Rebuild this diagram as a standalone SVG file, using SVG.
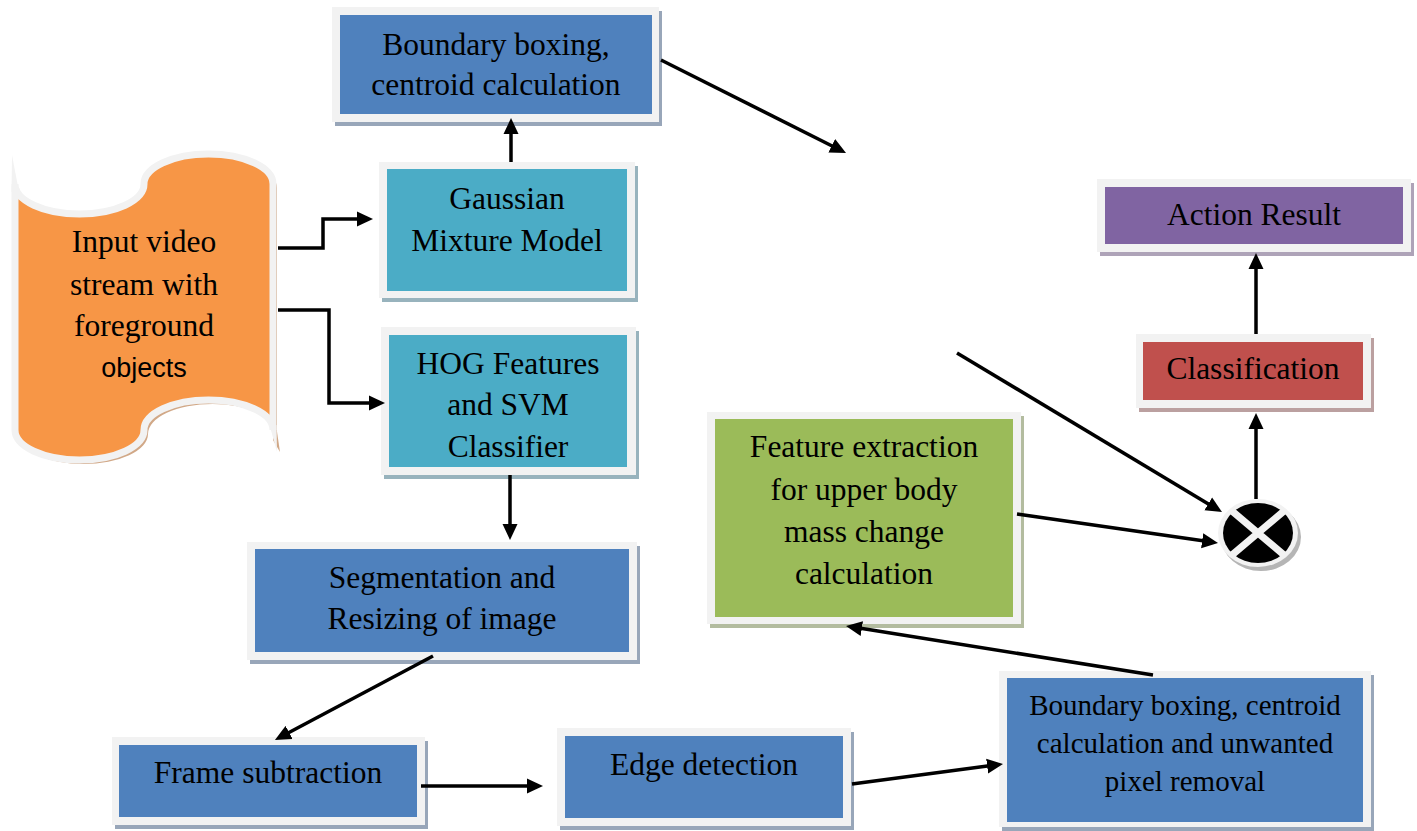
<svg xmlns="http://www.w3.org/2000/svg" width="1417" height="831" viewBox="0 0 1417 831">
<style>
.frame{fill:#f2f2f2}
.t{font-family:"Liberation Serif","Times New Roman",serif;font-size:31.5px;fill:#000;text-anchor:middle}
.ts{font-family:"Liberation Sans",Arial,sans-serif;font-size:27px;fill:#000;text-anchor:middle}
.blue{fill:#4f81bd}.sblue{fill:#98a6b9}
.teal{fill:#4bacc6}.steal{fill:#98b3bd}
.green{fill:#9bbb59}.sgreen{fill:#b3bc9f}
.red{fill:#c0504d}.sred{fill:#bba0a0}
.purple{fill:#8064a2}.spurple{fill:#aea3b8}
.conn{fill:none;stroke:#000;stroke-width:3.5}
</style>
<defs>
<marker id="ah" markerUnits="userSpaceOnUse" markerWidth="16" markerHeight="16" refX="6" refY="7.5" orient="auto" viewBox="0 0 16 15">
<path d="M0,0 L16,7.5 L0,15 Z" fill="#000"/>
</marker>
</defs>
<rect width="1417" height="831" fill="#fff"/>

<g id="input">
<path d="M15,184 A64.5,30 0 0,0 144,184 A64.5,30 0 0,1 273,184 L273,430 A64.5,30 0 0,0 144,430 A64.5,30 0 0,1 15,430 Z" transform="translate(4,4)" fill="#d1a887"/>
<path d="M276,425 L280,452 L273,440 Z" fill="#d1a887"/>
<path d="M15,184 A64.5,30 0 0,0 144,184 A64.5,30 0 0,1 273,184 L273,430 A64.5,30 0 0,0 144,430 A64.5,30 0 0,1 15,430 Z" fill="#f79646" stroke="#f2f2f2" stroke-width="7" stroke-miterlimit="10"/>
<path d="M11.5,192 L12,155 L19,192 Z" fill="#f2f2f2"/>
<path d="M269.5,425 L277,452 L276.5,425 Z" fill="#f2f2f2"/>
<text class="t" x="144" y="252">Input video</text>
<text class="t" x="144" y="295">stream with</text>
<text class="t" x="144" y="336">foreground</text>
<text class="ts" x="144" y="377">objects</text>
</g>

<g id="boundary1">
<rect class="sblue" x="335" y="11" width="327" height="115"/>
<rect class="frame" x="332" y="7" width="327" height="115"/>
<rect class="blue" x="340" y="15" width="312" height="99"/>
<text class="t" x="496" y="55">Boundary boxing,</text>
<text class="t" x="496" y="95">centroid calculation</text>
</g>

<g id="gmm">
<rect class="steal" x="382" y="166" width="256" height="136"/>
<rect class="frame" x="379" y="162" width="256" height="136"/>
<rect class="teal" x="387" y="169" width="240" height="122"/>
<text class="t" x="507" y="209">Gaussian</text>
<text class="t" x="507" y="251">Mixture Model</text>
</g>

<g id="hog">
<rect class="steal" x="384" y="331" width="255" height="148"/>
<rect class="frame" x="381" y="327" width="255" height="148"/>
<rect class="teal" x="389" y="335" width="238" height="132"/>
<text class="t" x="508" y="374">HOG Features</text>
<text class="t" x="508" y="415">and SVM</text>
<text class="t" x="508" y="457">Classifier</text>
</g>

<g id="segmentation">
<rect class="sblue" x="250" y="546" width="390" height="118"/>
<rect class="frame" x="247" y="542" width="390" height="118"/>
<rect class="blue" x="255" y="549" width="374" height="103"/>
<text class="t" x="442" y="588">Segmentation and</text>
<text class="t" x="442" y="629">Resizing of image</text>
</g>

<g id="framesub">
<rect class="sblue" x="115" y="741" width="313" height="88"/>
<rect class="frame" x="112" y="737" width="313" height="88"/>
<rect class="blue" x="119" y="745" width="298" height="72"/>
<text class="t" x="268" y="783">Frame subtraction</text>
</g>

<g id="edge">
<rect class="sblue" x="560" y="732" width="294" height="98"/>
<rect class="frame" x="557" y="728" width="294" height="98"/>
<rect class="blue" x="565" y="736" width="278" height="82"/>
<text class="t" x="704" y="775">Edge detection</text>
</g>

<g id="boundary2">
<rect class="sblue" x="1002" y="675" width="372" height="156"/>
<rect class="frame" x="999" y="671" width="372" height="156"/>
<rect class="blue" x="1007" y="678" width="356" height="144"/>
<text class="t" x="1185" y="715" style="font-size:29px">Boundary boxing, centroid</text>
<text class="t" x="1185" y="753" style="font-size:29px">calculation and unwanted</text>
<text class="t" x="1185" y="791" style="font-size:29px">pixel removal</text>
</g>

<g id="feature">
<rect class="sgreen" x="710" y="416" width="314" height="212"/>
<rect class="frame" x="707" y="412" width="314" height="212"/>
<rect class="green" x="715" y="419" width="298" height="198"/>
<text class="t" x="864" y="457">Feature extraction</text>
<text class="t" x="864" y="500">for upper body</text>
<text class="t" x="864" y="542">mass change</text>
<text class="t" x="864" y="584">calculation</text>
</g>

<g id="action">
<rect class="spurple" x="1100" y="183" width="314" height="73"/>
<rect class="frame" x="1097" y="179" width="314" height="73"/>
<rect class="purple" x="1105" y="187" width="298" height="57"/>
<text class="t" x="1254" y="225">Action Result</text>
</g>

<g id="classification">
<rect class="sred" x="1139" y="338" width="235" height="74"/>
<rect class="frame" x="1136" y="334" width="235" height="74"/>
<rect class="red" x="1143" y="342" width="220" height="58"/>
<text class="t" x="1253" y="379">Classification</text>
</g>

<g id="combiner">
<ellipse cx="1261" cy="537" rx="40" ry="34" fill="#b5b5b5"/>
<ellipse cx="1258" cy="533" rx="40" ry="34" fill="#f2f2f2"/>
<ellipse cx="1258" cy="533" rx="35" ry="30" fill="#000"/>
<path d="M1232,511 L1284,555 M1284,511 L1232,555" stroke="#f2f2f2" stroke-width="7"/>
</g>

<g id="connectors">
<path class="conn" d="M278,248 H323 V219 H363" marker-end="url(#ah)"/>
<path class="conn" d="M278,310 H329 V403 H375" marker-end="url(#ah)"/>
<path class="conn" d="M511,162 V128" marker-end="url(#ah)"/>
<path class="conn" d="M510,475 V530" marker-end="url(#ah)"/>
<path class="conn" d="M433,656 L283.8,735.3" marker-end="url(#ah)"/>
<path class="conn" d="M421,786 H533" marker-end="url(#ah)"/>
<path class="conn" d="M852,784 L993.1,765.3" marker-end="url(#ah)"/>
<path class="conn" d="M1153,675 L855.9,627.6" marker-end="url(#ah)"/>
<path class="conn" d="M1017,514 L1208.1,541.6" marker-end="url(#ah)"/>
<path class="conn" d="M957,353 L1213.4,506.9" marker-end="url(#ah)"/>
<path class="conn" d="M661,60 L837.1,148.5" marker-end="url(#ah)"/>
<path class="conn" d="M1256,499 V423" marker-end="url(#ah)"/>
<path class="conn" d="M1256,334 V263" marker-end="url(#ah)"/>
</g>
</svg>
